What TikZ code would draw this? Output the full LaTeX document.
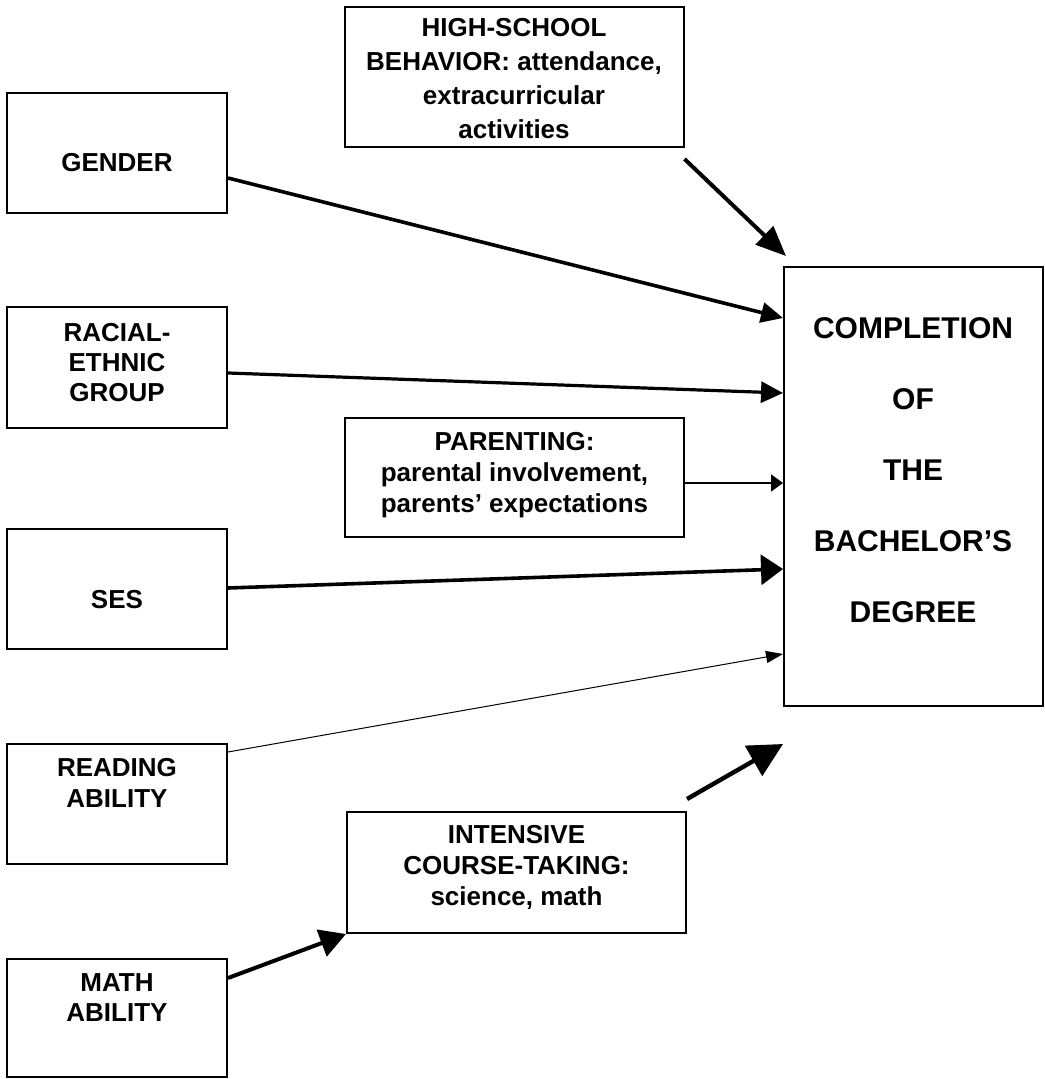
\documentclass[tikz,border=0pt]{standalone}
\usepackage{fontspec}
\setmainfont{Liberation Sans}
\usetikzlibrary{arrows.meta,calc}

\begin{document}
\begin{tikzpicture}[x=0.5pt,y=-0.5pt,
    box/.style={draw,line width=1pt,inner sep=0pt},
    leftbox/.style={box,minimum width=110pt,minimum height=60pt},
    midbox/.style={box,minimum width=169.5pt},
    txt/.style={align=center,inner sep=0pt,font=\bfseries\fontsize{13}{#1}\selectfont},
    txt/.default=15.5]
        \useasboundingbox (0,0) rectangle (1044,1079);

        % left column
        \node[leftbox] (gender) at (117,153) {};
        \node[leftbox] (race) at (117,367.5) {};
        \node[leftbox] (ses) at (117,589) {};
        \node[leftbox] (reading) at (117,803.5) {};
        \node[leftbox,minimum height=59pt] (math) at (117,1018) {};
        \node[txt] (genderText) at (117,163) {GENDER};
        \node[txt=15] (raceText) at (117,363) {RACIAL-\\ETHNIC\\GROUP};
        \node[txt] (sesText) at (117,600) {SES};
        \node[txt] (readingText) at (117,782.5) {READING\\ABILITY};
        \node[txt=15] (mathText) at (117,998) {MATH\\ABILITY};

        % middle column
        \node[midbox,minimum height=70pt] (school) at (514,77) {};
        \node[midbox,minimum height=59.5pt] (parenting) at (514.5,477.5) {};
        \node[midbox,minimum height=60.5pt] (courses) at (516.5,872.5) {};
        \node[txt=17] (schoolText) at (514,79) {HIGH-SCHOOL\\BEHAVIOR: attendance,\\extracurricular\\activities};
        \node[txt] (parentingText) at (514.5,475) {PARENTING:\\parental involvement,\\parents’ expectations};
        \node[txt] (coursesText) at (516.5,867) {INTENSIVE\\COURSE-TAKING:\\science, math};

        % outcome
        \node[box,minimum width=129.5pt,minimum height=219.5pt] (degree) at (913.5,486.5) {};
        \node[align=center,inner sep=0pt,font=\bfseries\fontsize{15}{35.5}\selectfont] (degreeText) at (913,470)
            {COMPLETION\\OF\\THE\\BACHELOR’S\\DEGREE};

        % paths
        \draw[line width=1.8pt,-{Triangle[length=11pt,width=10pt]}] (gender.east |- 0,178) -- (degree.west |- 0,318);
        \draw[line width=1.6pt,-{Triangle[length=11pt,width=10.5pt]}] (race.east |- 0,373) -- (degree.west |- 0,393);
        \draw[line width=1pt,-{Triangle[length=6pt,width=8.5pt]}] (parenting.east |- 0,483) -- (degree.west |- 0,483);
        \draw[line width=1.8pt,-{Triangle[length=11pt,width=15pt]}] (ses.east |- 0,588) -- (degree.west |- 0,569);
        \draw[line width=0.5pt,-{Triangle[length=8.5pt,width=6pt]}] (reading.east |- 0,752) -- (degree.west |- 0,654);
        \draw[line width=2pt,-{Triangle[length=15pt,width=12.5pt]}] ($(school.south east)+(0,11)$) -- ($(degree.north west)+(3,-10)$);
        \draw[line width=2.2pt,-{Triangle[length=17pt,width=17pt]}] ($(courses.north east)+(0,-12)$) -- ($(degree.south west)+(0,37)$);
        \draw[line width=2pt,-{Triangle[length=13pt,width=14pt]}] (math.east |- 0,978) -- (courses.south west);

\end{tikzpicture}
\end{document}
